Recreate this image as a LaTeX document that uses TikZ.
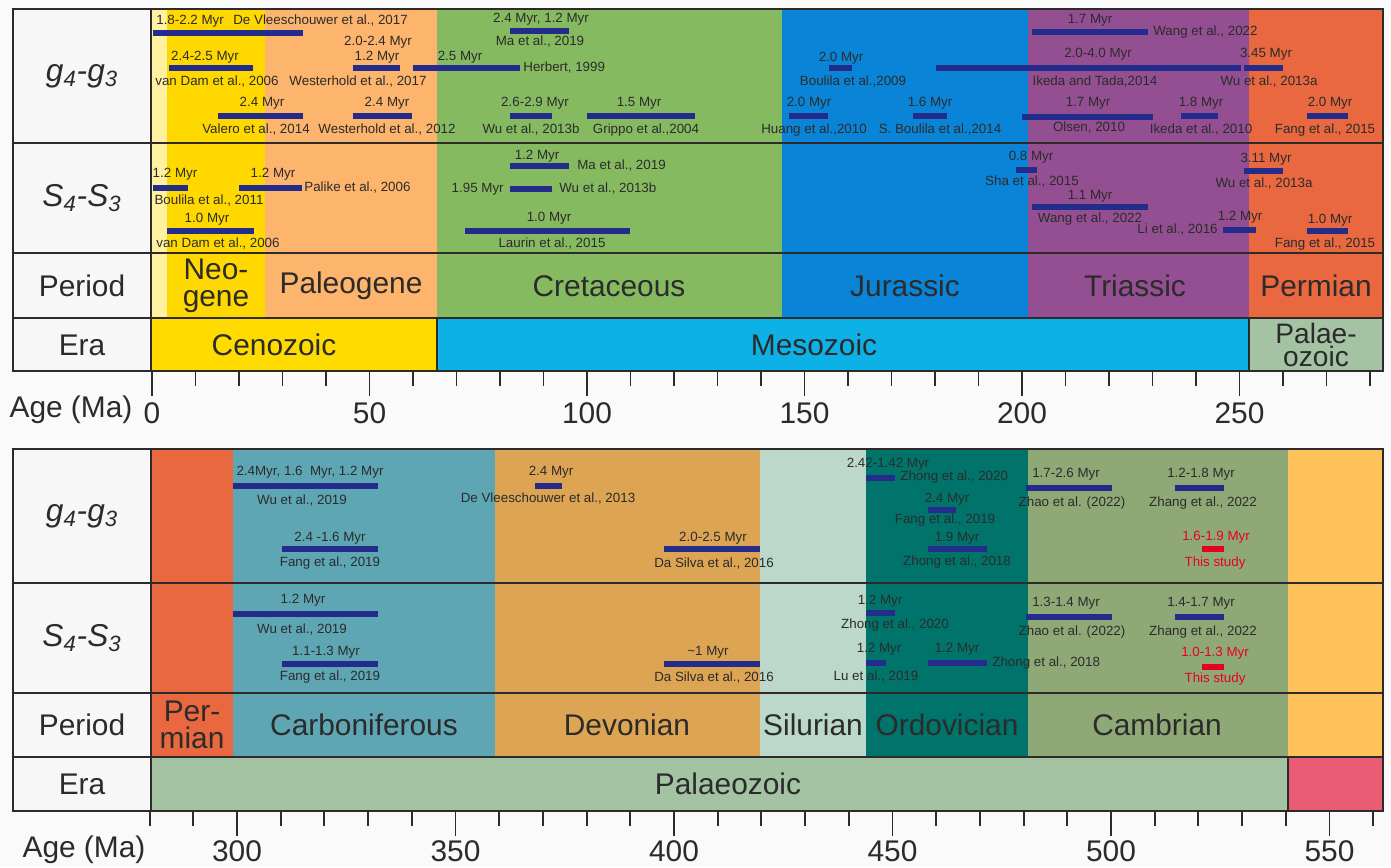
\documentclass[tikz,border=0pt]{standalone}
\usepackage{fontspec}
\setmainfont{Liberation Sans}
\usepackage{tikz}
\usetikzlibrary{positioning}
\definecolor{ink}{HTML}{2B2B2B}
\definecolor{frame}{HTML}{2E2A2A}
\definecolor{paper}{HTML}{FAFAFA}
\definecolor{barblue}{HTML}{232C8A}
\definecolor{studyred}{HTML}{E60020}
\definecolor{quat}{HTML}{FFF1A0}
\definecolor{neog}{HTML}{FFD800}
\definecolor{paleog}{HTML}{FDB46C}
\definecolor{cret}{HTML}{86BA61}
\definecolor{jura}{HTML}{0A84D6}
\definecolor{tria}{HTML}{934F91}
\definecolor{perm}{HTML}{E9683F}
\definecolor{carb}{HTML}{5EA6B3}
\definecolor{devo}{HTML}{DCA453}
\definecolor{silu}{HTML}{BBD8CB}
\definecolor{ordo}{HTML}{00746A}
\definecolor{camb}{HTML}{8FA976}
\definecolor{edia}{HTML}{FFC25A}
\definecolor{ceno}{HTML}{FFDB00}
\definecolor{meso}{HTML}{0EB1E6}
\definecolor{palaeo}{HTML}{A3C3A2}
\definecolor{precam}{HTML}{EA5C73}
\tikzstyle{cell} = [inner sep=0pt, align=center, text=ink, font=\fontsize{17}{17.5}\selectfont]
\tikzstyle{twoline} = [cell, font=\fontsize{17}{15.5}\selectfont]
\tikzstyle{rowname} = [inner sep=0pt, text=ink, font=\fontsize{18}{18}\selectfont\itshape]
\tikzstyle{ref} = [inner sep=0pt, text=ink, font=\fontsize{7.6}{8}\selectfont]
\tikzstyle{ours} = [ref, text=studyred]
\tikzstyle{border} = [line width=1.6pt, draw=frame]
\tikzstyle{tick} = [line width=1.1pt, draw=frame]
\newcommand{\agebar}[4][barblue]{\fill[#1] (#2,#4-3) rectangle (#3,#4+3);}

\begin{document}
\begin{tikzpicture}[x=0.02cm, y=-0.02cm]
\useasboundingbox (0,0) rectangle (1391,867);
\fill[paper] (0,0) rectangle (1391,867);
%
% upper chart: 0-280 Ma
\fill[white!97!black] (13,9) rectangle (151,371);
\fill[quat] (151,9) rectangle (167,318);
\fill[neog] (167,9) rectangle (265,318);
\fill[paleog] (265,9) rectangle (437,318);
\fill[cret] (437,9) rectangle (782,318);
\fill[jura] (782,9) rectangle (1028,318);
\fill[tria] (1028,9) rectangle (1249,318);
\fill[perm] (1249,9) rectangle (1383,318);
\fill[ceno] (151,318) rectangle (437,371);
\fill[meso] (437,318) rectangle (1249,371);
\fill[palaeo] (1249,318) rectangle (1383,371);
%
% lower chart: 280-560 Ma
\fill[white!97!black] (13,449) rectangle (151,811);
\fill[perm] (151,449) rectangle (233,757);
\fill[carb] (233,449) rectangle (495,757);
\fill[devo] (495,449) rectangle (760,757);
\fill[silu] (760,449) rectangle (866,757);
\fill[ordo] (866,449) rectangle (1028,757);
\fill[camb] (1028,449) rectangle (1288,757);
\fill[edia] (1288,449) rectangle (1383,757);
\fill[palaeo] (151,757) rectangle (1288,811);
\fill[precam] (1288,757) rectangle (1383,811);
%
% row names
\node[rowname] (gA) at (82,76) {g\textsubscript{4}-g\textsubscript{3}};
\node[rowname] (sA) at (82,198) {S\textsubscript{4}-S\textsubscript{3}};
\node[cell] (pA) at (82,286) {Period};
\node[cell] (eA) at (82,345) {Era};
\node[rowname] (gB) at (82,516) {g\textsubscript{4}-g\textsubscript{3}};
\node[rowname] (sB) at (82,638) {S\textsubscript{4}-S\textsubscript{3}};
\node[cell] (pB) at (82,725) {Period};
\node[cell] (eB) at (82,784) {Era};
%
% periods and eras
\node[twoline] (neo) at (216,286) {Neo-\\gene};
\node[cell] (pal) at (351,286) {Paleogene};
\node[cell] (cre) at (609,286) {Cretaceous};
\node[cell] (jur) at (905,286) {Jurassic};
\node[cell] (tri) at (1135,286) {Triassic};
\node[cell] (perA) at (1316,286) {Permian};
\node[cell] (cen) at (274,345) {Cenozoic};
\node[cell] (mes) at (814,345) {Mesozoic};
\node[twoline, font=\fontsize{16}{13}\selectfont] (palA) at (1316,345) {Palae-\\ozoic};
\node[twoline] (perB) at (192,725) {Per-\\mian};
\node[cell] (car) at (364,725) {Carboniferous};
\node[cell] (dev) at (627,725) {Devonian};
\node[cell] (sil) at (813,725) {Silurian};
\node[cell] (ord) at (947,725) {Ordovician};
\node[cell] (cam) at (1157,725) {Cambrian};
\node[cell] (palB) at (728,784) {Palaeozoic};
%
% g4-g3, upper
\agebar{153}{303}{33}
\node[ref, anchor=west] (dv17v) at (156,21) {1.8-2.2 Myr};
\node[ref, anchor=west] (dv17) at (233,21) {De Vleeschouwer et al., 2017};
\agebar{169}{253}{68}
\node[ref] (vd06v) at (205,57) {2.4-2.5 Myr};
\node[ref] (vd06) at (217,82) {van Dam et al., 2006};
\agebar{353}{400}{68}
\node[ref] (wh17a) at (378,42) {2.0-2.4 Myr};
\node[ref] (wh17b) at (377,57) {1.2 Myr};
\node[ref] (wh17) at (358,82) {Westerhold et al., 2017};
\agebar{413}{520}{68}
\node[ref] (hb99v) at (460,57) {2.5 Myr};
\node[ref, anchor=west] (hb99) at (523,68) {Herbert, 1999};
\agebar{218}{303}{116}
\node[ref] (va14v) at (262,103) {2.4 Myr};
\node[ref] (va14) at (256,130) {Valero et al., 2014};
\agebar{353}{412}{116}
\node[ref] (wh12v) at (387,103) {2.4 Myr};
\node[ref] (wh12) at (387,130) {Westerhold et al., 2012};
\agebar{510}{569}{31}
\node[ref] (ma19v) at (541,19) {2.4 Myr, 1.2 Myr};
\node[ref] (ma19) at (540,42) {Ma et al., 2019};
\agebar{510}{552}{116}
\node[ref] (wu13bv) at (535,103) {2.6-2.9 Myr};
\node[ref] (wu13b) at (531,130) {Wu et al., 2013b};
\agebar{587}{695}{116}
\node[ref] (gr04v) at (639,103) {1.5 Myr};
\node[ref] (gr04) at (646,130) {Grippo et al.,2004};
\agebar{829}{852}{68}
\node[ref] (bo09v) at (841,58) {2.0 Myr};
\node[ref] (bo09) at (853,82) {Boulila et al.,2009};
\agebar{789}{828}{116}
\node[ref] (hu10v) at (809,103) {2.0 Myr};
\node[ref] (hu10) at (814,130) {Huang et al.,2010};
\agebar{913}{947}{116}
\node[ref] (sb14v) at (930,103) {1.6 Myr};
\node[ref] (sb14) at (940,130) {S. Boulila et al.,2014};
\agebar{936}{1241}{68}
\node[ref] (it14v) at (1098,54) {2.0-4.0 Myr};
\node[ref] (it14) at (1095,82) {Ikeda and Tada,2014};
\agebar{1032}{1148}{32}
\node[ref] (wa22v) at (1090,20) {1.7 Myr};
\node[ref, anchor=west] (wa22) at (1153,32) {Wang et al., 2022};
\agebar{1244}{1283}{68}
\node[ref] (wu13av) at (1266,54) {3.45 Myr};
\node[ref] (wu13a) at (1269,82) {Wu et al., 2013a};
\agebar{1022}{1153}{117}
\node[ref] (ol10v) at (1088,103) {1.7 Myr};
\node[ref] (ol10) at (1089,128) {Olsen, 2010};
\agebar{1181}{1218}{116}
\node[ref] (ik10v) at (1201,103) {1.8 Myr};
\node[ref] (ik10) at (1201,130) {Ikeda et al., 2010};
\agebar{1307}{1348}{116}
\node[ref] (fa15v) at (1330,103) {2.0 Myr};
\node[ref] (fa15) at (1325,130) {Fang et al., 2015};
%
% S4-S3, upper
\agebar{153}{188}{188}
\node[ref] (bo11v) at (175,174) {1.2 Myr};
\node[ref] (bo11) at (209,201) {Boulila et al., 2011};
\agebar{239}{302}{188}
\node[ref] (pa06v) at (273,174) {1.2 Myr};
\node[ref, anchor=west] (pa06) at (304,188) {Palike et al., 2006};
\agebar{167}{254}{231}
\node[ref] (vd06sv) at (207,219) {1.0 Myr};
\node[ref] (vd06s) at (218,244) {van Dam et al., 2006};
\agebar{510}{569}{166}
\node[ref] (ma19sv) at (537,156) {1.2 Myr};
\node[ref, anchor=west] (ma19s) at (577,166) {Ma et al., 2019};
\agebar{510}{552}{189}
\node[ref, anchor=east] (wu13bsv) at (504,189) {1.95 Myr};
\node[ref, anchor=west] (wu13bs) at (559,189) {Wu et al., 2013b};
\agebar{465}{630}{231}
\node[ref] (la15v) at (549,218) {1.0 Myr};
\node[ref] (la15) at (552,244) {Laurin et al., 2015};
\agebar{1016}{1037}{170}
\node[ref] (sh15v) at (1031,157) {0.8 Myr};
\node[ref] (sh15) at (1032,182) {Sha et al., 2015};
\agebar{1244}{1283}{171}
\node[ref] (wu13asv) at (1266,159) {3.11 Myr};
\node[ref] (wu13as) at (1264,184) {Wu et al., 2013a};
\agebar{1032}{1148}{207}
\node[ref] (wa22sv) at (1090,196) {1.1 Myr};
\node[ref] (wa22s) at (1090,219) {Wang et al., 2022};
\agebar{1223}{1256}{230}
\node[ref] (li16v) at (1240,217) {1.2 Myr};
\node[ref, anchor=east] (li16) at (1218,230) {Li et al., 2016};
\agebar{1307}{1348}{231}
\node[ref] (fa15sv) at (1330,220) {1.0 Myr};
\node[ref] (fa15s) at (1325,244) {Fang et al., 2015};
%
% g4-g3, lower
\agebar{233}{378}{486}
\node[ref] (wu19v) at (310,472) {2.4Myr, 1.6\ \ Myr, 1.2 Myr};
\node[ref] (wu19) at (302,500) {Wu et al., 2019};
\agebar{282}{378}{549}
\node[ref] (fa19v) at (330,538) {2.4 -1.6 Myr};
\node[ref] (fa19) at (330,563) {Fang et al., 2019};
\agebar{535}{562}{486}
\node[ref] (dv13v) at (551,472) {2.4 Myr};
\node[ref] (dv13) at (548,498) {De Vleeschouwer et al., 2013};
\agebar{664}{760}{549}
\node[ref] (ds16v) at (713,538) {2.0-2.5 Myr};
\node[ref] (ds16) at (714,563) {Da Silva et al., 2016};
\agebar{866}{895}{478}
\node[ref] (zh20v) at (888,464) {2.42-1.42 Myr};
\node[ref, anchor=west] (zh20) at (900,477) {Zhong et al., 2020};
\agebar{928}{956}{510}
\node[ref] (fa19ov) at (947,499) {2.4 Myr};
\node[ref] (fa19o) at (945,520) {Fang et al., 2019};
\agebar{928}{987}{549}
\node[ref] (zh18v) at (957,538) {1.9 Myr};
\node[ref] (zh18) at (957,562) {Zhong et al., 2018};
\agebar{1026}{1112}{488}
\node[ref] (zo22v) at (1066,474) {1.7-2.6 Myr};
\node[ref] (zo22) at (1072,503) {Zhao et al. (2022)};
\agebar{1175}{1224}{488}
\node[ref] (zg22v) at (1201,474) {1.2-1.8 Myr};
\node[ref] (zg22) at (1203,503) {Zhang et al., 2022};
\agebar[studyred]{1202}{1224}{549}
\node[ours] (tsv) at (1216,537) {1.6-1.9 Myr};
\node[ours] (ts) at (1215,563) {This study};
%
% S4-S3, lower
\agebar{233}{378}{614}
\node[ref] (wu19sv) at (303,600) {1.2 Myr};
\node[ref] (wu19s) at (302,629) {Wu et al., 2019};
\agebar{282}{378}{664}
\node[ref] (fa19sv) at (326,652) {1.1-1.3 Myr};
\node[ref] (fa19s) at (330,677) {Fang et al., 2019};
\agebar{664}{760}{664}
\node[ref] (ds16sv) at (708,652) {\textasciitilde 1 Myr};
\node[ref] (ds16s) at (714,677) {Da Silva et al., 2016};
\agebar{866}{895}{613}
\node[ref] (zh20sv) at (880,601) {1.2 Myr};
\node[ref] (zh20s) at (895,625) {Zhong et al., 2020};
\agebar{866}{886}{663}
\node[ref] (lu19v) at (879,649) {1.2 Myr};
\node[ref] (lu19) at (876,676) {Lu et al., 2019};
\agebar{928}{987}{663}
\node[ref] (zh18sv) at (957,649) {1.2 Myr};
\node[ref, anchor=west] (zh18s) at (992,663) {Zhong et al., 2018};
\agebar{1026}{1112}{617}
\node[ref] (zo22sv) at (1066,603) {1.3-1.4 Myr};
\node[ref] (zo22s) at (1072,632) {Zhao et al. (2022)};
\agebar{1175}{1224}{617}
\node[ref] (zg22sv) at (1201,603) {1.4-1.7 Myr};
\node[ref] (zg22s) at (1203,632) {Zhang et al., 2022};
\agebar[studyred]{1202}{1224}{667}
\node[ours] (tssv) at (1215,653) {1.0-1.3 Myr};
\node[ours] (tss) at (1215,679) {This study};
%
% frames
\draw[border] (13,9) rectangle (1383,371);
\draw[border] (13,143) -- (1383,143);
\draw[border] (13,253) -- (1383,253);
\draw[border] (13,318) -- (1383,318);
\draw[border] (151,9) -- (151,371);
\draw[border] (437,318) -- (437,371);
\draw[border] (1249,318) -- (1249,371);
\draw[border] (13,449) rectangle (1383,811);
\draw[border] (13,583) -- (1383,583);
\draw[border] (13,693) -- (1383,693);
\draw[border] (13,757) -- (1383,757);
\draw[border] (151,449) -- (151,811);
\draw[border] (1288,757) -- (1288,811);
%
% age axes
\foreach \a in {0,10,...,280}
  \draw[tick] ({152+4.35*\a},371) -- ++(0,15);
\foreach \a in {0,50,...,250}{
  \draw[tick] ({152+4.35*\a},371) -- ++(0,25);
  \node[cell] at ({152+4.35*\a},413) {\a};
}
\foreach \a in {280,290,...,560}
  \draw[tick] ({237+4.37*(\a-300)},811) -- ++(0,15);
\foreach \a in {300,350,...,550}{
  \draw[tick] ({237+4.37*(\a-300)},811) -- ++(0,25);
  \node[cell] at ({237+4.37*(\a-300)},851) {\a};
}
\node[cell] (ageA) at (71,410) {Age (Ma)};
\node[cell] (ageB) at (84,850) {Age (Ma)};
\end{tikzpicture}
\end{document}
